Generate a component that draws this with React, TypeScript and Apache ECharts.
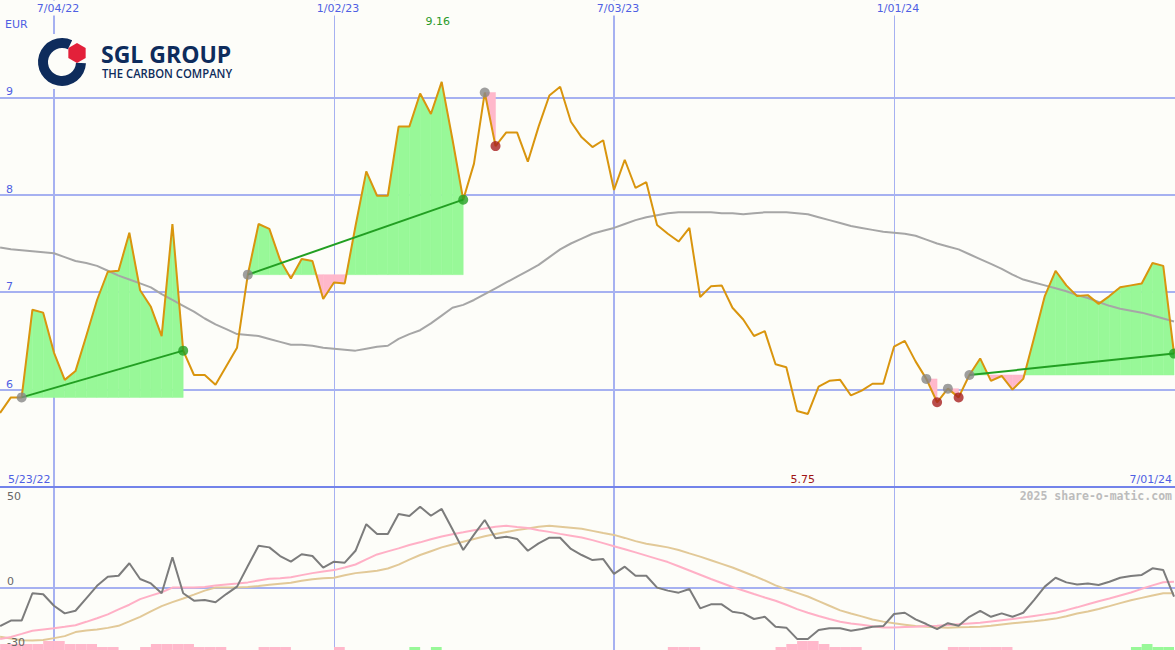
import React, { useEffect, useRef } from "react";
import * as echarts from "echarts";

// ---------- DATA ----------
// week numbers: first value = week 1 (weekly closes)
const FIRST_WEEK = 1;

const price = [
  5.76, 5.92, 5.92, 6.82, 6.79, 6.38, 6.10, 6.19, 6.55, 6.92,
  7.21, 7.22, 7.61, 7.02, 6.85, 6.55, 7.70, 6.40, 6.15, 6.15,
  6.05, 6.24, 6.43, 7.18, 7.70, 7.65, 7.33, 7.14, 7.34, 7.32,
  6.93, 7.10, 7.09, 7.68, 8.24, 7.99, 7.99, 8.70, 8.70, 9.04,
  8.83, 9.16, 8.57, 7.95, 8.32, 9.05, 8.50, 8.64, 8.64, 8.34,
  8.70, 9.02, 9.11, 8.75, 8.59, 8.49, 8.56, 8.05, 8.36, 8.07,
  8.13, 7.69, 7.60, 7.52, 7.66, 6.95, 7.06, 7.07, 6.84, 6.72,
  6.55, 6.60, 6.26, 6.23, 5.78, 5.75, 6.03, 6.09, 6.10, 5.94,
  5.99, 6.06, 6.06, 6.44, 6.50, 6.29, 6.11, 5.87, 6.01, 5.92,
  6.15, 6.32, 6.09, 6.14, 6.00, 6.11, 6.53, 6.96, 7.22, 7.07,
  6.96, 6.97, 6.88, 6.96, 7.05, 7.07, 7.09, 7.30, 7.27, 6.37,
];

const movingAverage = [
  7.46, 7.44, 7.43, 7.42, 7.41, 7.40, 7.36, 7.32, 7.30, 7.27,
  7.22, 7.17, 7.13, 7.09, 7.05, 6.98, 6.92, 6.86, 6.80, 6.73,
  6.67, 6.62, 6.57, 6.56, 6.55, 6.52, 6.49, 6.46, 6.46, 6.45,
  6.43, 6.42, 6.41, 6.40, 6.42, 6.44, 6.45, 6.52, 6.57, 6.61,
  6.68, 6.76, 6.84, 6.87, 6.92, 6.98, 7.04, 7.10, 7.16, 7.22,
  7.28, 7.36, 7.44, 7.50, 7.55, 7.60, 7.63, 7.66, 7.70, 7.74,
  7.77, 7.79, 7.81, 7.82, 7.82, 7.82, 7.82, 7.81, 7.81, 7.80,
  7.81, 7.82, 7.82, 7.82, 7.81, 7.80, 7.77, 7.74, 7.71, 7.68,
  7.66, 7.64, 7.62, 7.61, 7.60, 7.58, 7.54, 7.50, 7.47, 7.44,
  7.39, 7.34, 7.29, 7.24, 7.18, 7.13, 7.10, 7.07, 7.04, 7.01,
  6.97, 6.94, 6.90, 6.86, 6.83, 6.81, 6.79, 6.76, 6.73, 6.70,
];

const oscillator = [
  -19.1, -16.4, -16.4, -2.8, -3.3, -9.0, -12.8, -11.5, -5.3, 0.9,
  5.4, 5.9, 12.1, 4.3, 2.1, -2.8, 15.1, -2.8, -6.5, -6.2,
  -7.3, -3.2, 0.5, 10.7, 20.8, 20.0, 15.7, 12.9, 16.6, 15.7,
  9.9, 12.9, 12.4, 18.3, 31.5, 26.6, 26.6, 36.6, 35.6, 40.2,
  35.7, 39.1, 29.0, 18.7, 26.3, 33.6, 24.5, 25.3, 24.2, 18.3,
  22.0, 24.8, 24.8, 19.2, 16.2, 13.7, 14.2, 6.8, 10.4, 5.9,
  5.9, 0.0, -1.5, -2.5, -0.7, -10.3, -8.3, -8.3, -12.0, -12.8,
  -15.6, -14.5, -19.4, -19.9, -25.5, -25.5, -21.1, -20.2, -20.2, -21.4,
  -20.6, -19.4, -19.1, -13.1, -12.5, -15.8, -18.1, -20.6, -17.7, -18.9,
  -14.5, -11.5, -14.5, -12.8, -14.5, -12.5, -6.2, 0.5, 4.9, 2.6,
  1.6, 2.1, 1.3, 2.9, 4.9, 5.8, 6.3, 9.6, 8.7, -4.5,
];

const signalFast = [
  -25.5, -24.5, -23.0, -21.4, -20.8, -20.2, -19.5, -18.7, -17.0, -15.2,
  -13.3, -10.8, -8.5, -5.7, -4.0, -2.3, 0.0, 0.0, 0.0, 0.3,
  1.0, 1.5, 2.0, 2.6, 3.5, 4.4, 4.7, 5.2, 6.2, 7.2,
  8.0, 8.7, 10.0, 11.5, 14.0, 16.5, 18.0, 19.5, 21.2, 22.5,
  24.0, 25.4, 26.5, 27.5, 28.5, 29.4, 30.3, 30.7, 30.1, 29.6,
  28.5, 27.7, 26.7, 25.8, 24.9, 23.6, 22.1, 20.6, 19.1, 17.5,
  15.9, 14.3, 12.7, 10.6, 8.5, 6.4, 4.3, 2.3, 0.3, -1.4,
  -3.2, -4.9, -6.5, -8.5, -10.7, -12.5, -14.1, -15.6, -17.0, -17.8,
  -18.5, -19.2, -19.8, -19.8, -19.6, -19.4, -19.1, -18.9, -18.6, -18.2,
  -17.8, -17.4, -16.8, -16.2, -15.6, -14.9, -14.1, -13.3, -12.5, -11.2,
  -9.8, -8.3, -6.8, -5.4, -3.9, -2.4, -0.6, 1.1, 2.7, 2.9,
];

const signalSlow = [
  -24.4, -25.3, -26.2, -26.3, -26.0, -25.1, -24.1, -22.1, -21.3, -20.8,
  -20.0, -19.0, -16.8, -14.5, -11.8, -9.2, -7.2, -5.4, -3.5, -1.5,
  0.0, 0.0, 0.0, 0.3, 0.8, 1.4, 1.9, 2.4, 3.4, 4.2,
  4.6, 4.9, 6.1, 7.2, 7.8, 8.4, 9.5, 11.4, 13.9, 16.2,
  18.1, 20.0, 21.4, 22.8, 24.2, 25.5, 26.6, 27.6, 28.6, 29.4,
  30.2, 30.7, 30.2, 29.7, 29.2, 28.2, 27.1, 26.2, 24.7, 23.1,
  21.8, 20.9, 20.0, 18.7, 17.0, 15.4, 13.6, 11.8, 10.0, 7.9,
  5.8, 3.6, 1.1, -0.8, -2.6, -4.4, -6.7, -9.0, -11.3, -12.9,
  -14.3, -15.8, -16.9, -17.7, -18.4, -19.1, -19.4, -19.7, -19.9, -19.7,
  -19.6, -19.4, -18.9, -18.3, -17.7, -17.2, -16.7, -16.1, -15.4, -14.2,
  -12.9, -11.9, -10.6, -9.2, -7.7, -6.3, -5.1, -3.9, -2.8, -2.8,
];

// signal histogram (negative = pink, positive = green)
const histogram = [
  -2, -2, -2, -2, -3, -3, -2, -2, -2, -1,
  -1, 0, 0, -1, -2, -2, -2, -2, -1, -1,
  -1, 0, 0, 0, -1, -1, -1, 0, 0, 0,
  0, -1, 0, 0, 0, 0, 0, 0, 1, 0,
  1, 0, 0, 0, 0, 0, 0, 0, 0, 0,
  0, 0, 0, 0, 0, 0, 0, 0, 0, 0,
  0, 0, -1, -1, -1, 0, 0, 0, 0, 0,
  0, 0, -1, -2, -3, -3, -2, -1, -1, -1,
  0, 0, 0, 0, 0, 0, 0, 0, -1, -1,
  -1, -1, -1, -1, 0, 0, 0, 0, 0, 0,
  0, 0, 0, 0, 0, 1, 2, 1, 1, 0,
];

// trades: [entry week, exit week]
const trades: [number, number][] = [
  [3, 18], [24, 44], [46, 47], [87, 88], [89, 90], [91, 110],
];

const dateTickWeeks = [6, 32, 58, 84];
const dateTickLabels = ["7/04/22", "1/02/23", "7/03/23", "1/01/24"];
const firstDateLabel = "5/23/22";
const lastDateLabel = "7/01/24";
const priceTicks = [6, 7, 8, 9];
const oscTicks = [50, 0, -30];
const currencyLabel = "EUR";
const watermark = "2025 share-o-matic.com";
const brandTitle = "SGL GROUP";
const brandSubtitle = "THE CARBON COMPANY";

// ---------- STYLE ----------
const BG = "#fdfdf9";
const GRID = "#a6b1f1";
const DIVIDER = "#7383ea";
const BLUE = "#4f5fe3";
const ORANGE = "#d9950e";
const MA_GRAY = "#a6a6a6";
const OSC_GRAY = "#7c7c7c";
const PINK_LINE = "#ffb0c6";
const TAN_LINE = "#e2c998";
const FILL_GREEN = "#98f898";
const FILL_PINK = "#ffb8cb";
const TRADE_GREEN = "#229f22";
const ENTRY_GRAY = "#878787";
const EXIT_RED = "#a82020";
const NAVY = "#0e2c5c";
const LOGO_RED = "#e3203a";
const FONT = "DejaVu Sans";

const XMIN = 0.99;
const XMAX = 110.09;
const W = 1175;
const H = 650;
const SPLIT = 487;

const toPts = (arr: number[]) => arr.map((v, i) => [i + FIRST_WEEK, v]);
const priceAt = (k: number) => price[k - FIRST_WEEK];

function buildOption(): any {
  const xAx = (gridIndex: number) => ({
    type: "value", gridIndex, min: XMIN, max: XMAX, show: false,
  });
  const lineS = (data: number[], color: string, xi: number, z: number) => ({
    type: "line",
    xAxisIndex: xi,
    yAxisIndex: xi,
    data: toPts(data),
    showSymbol: false,
    symbol: "none",
    silent: true,
    z,
    lineStyle: { color, width: 2 },
    itemStyle: { color },
  });
  const vLines = dateTickWeeks.map((k, i) => ({
    xAxis: k,
    lineStyle: { color: GRID, width: i % 2 === 0 ? 2 : 1, type: "solid" },
  }));

  const winning = trades.filter(([e, x]) => priceAt(x) > priceAt(e));

  const markers: any[] = [];
  trades.forEach(([e, x]) => {
    markers.push({ value: [e, priceAt(e)], itemStyle: { color: ENTRY_GRAY } });
    markers.push({
      value: [x, priceAt(x)],
      itemStyle: { color: priceAt(x) > priceAt(e) ? TRADE_GREEN : EXIT_RED },
    });
  });

  return {
    animation: false,
    backgroundColor: BG,
    grid: [
      { left: 0, right: 0, top: 0, height: SPLIT },
      { left: 0, right: 0, top: SPLIT, height: H - SPLIT },
      { left: 0, right: 0, top: 620, height: 30 },
    ],
    xAxis: [xAx(0), xAx(1), xAx(2)],
    yAxis: [
      {
        type: "value", gridIndex: 0, min: 5, max: 10, interval: 1,
        axisLine: { show: false }, axisTick: { show: false }, splitLine: { show: false },
        axisLabel: {
          inside: true, margin: 6, verticalAlign: "bottom", color: BLUE,
          fontSize: 11, fontFamily: FONT,
          formatter: (v: number) => (priceTicks.includes(v) ? String(v) : ""),
        },
      },
      { type: "value", gridIndex: 1, min: -31, max: 50, show: false },
      { type: "value", gridIndex: 2, min: 0, max: 10, show: false },
    ],
    series: [
      // grid lines, price panel
      {
        type: "line", xAxisIndex: 0, yAxisIndex: 0, data: [[FIRST_WEEK, 5]],
        symbol: "none", lineStyle: { opacity: 0 }, silent: true, z: 1, clip: false,
        markLine: {
          z: 1, silent: true, symbol: ["none", "none"], label: { show: false },
          animation: false,
          data: [
            ...priceTicks.map((v) => ({ yAxis: v, lineStyle: { color: GRID, width: 2, type: "solid" } })),
            ...vLines,
          ],
        },
      },
      // grid lines, indicator panel
      {
        type: "line", xAxisIndex: 1, yAxisIndex: 1, data: [[FIRST_WEEK, 0]],
        symbol: "none", lineStyle: { opacity: 0 }, silent: true, z: 1, clip: false,
        markLine: {
          z: 1, silent: true, symbol: ["none", "none"], label: { show: false },
          animation: false,
          data: [
            { yAxis: 0, lineStyle: { color: GRID, width: 2, type: "solid" } },
            ...vLines,
            { yAxis: 50, lineStyle: { color: DIVIDER, width: 2, type: "solid" } },
          ],
        },
      },
      // trade fills
      {
        type: "custom", xAxisIndex: 0, yAxisIndex: 0, z: 2, silent: true,
        data: trades.map(([e], i) => [e, priceAt(e), i]),
        encode: { x: 0, y: 1 },
        renderItem: (params: any, api: any) => {
          const [e, x] = trades[params.dataIndex];
          const base = priceAt(e);
          const children: any[] = [];
          const poly = (pts: number[][], up: boolean) =>
            children.push({
              type: "polygon",
              shape: { points: pts.map((p) => api.coord(p)) },
              style: { fill: up ? FILL_GREEN : FILL_PINK, stroke: up ? FILL_GREEN : FILL_PINK, lineWidth: 0.5 },
            });
          for (let k = e; k < x; k++) {
            const p0 = priceAt(k), p1 = priceAt(k + 1);
            const d0 = p0 - base, d1 = p1 - base;
            if (d0 === 0 && d1 === 0) continue;
            if (d0 * d1 >= 0) {
              poly([[k, base], [k, p0], [k + 1, p1], [k + 1, base]], d0 + d1 > 0);
            } else {
              const xm = k + d0 / (d0 - d1);
              poly([[k, base], [k, p0], [xm, base]], d0 > 0);
              poly([[xm, base], [k + 1, p1], [k + 1, base]], d1 > 0);
            }
          }
          return { type: "group", children };
        },
      },
      lineS(movingAverage, MA_GRAY, 0, 3),
      lineS(price, ORANGE, 0, 4),
      ...winning.map(([e, x]) => ({
        type: "line", xAxisIndex: 0, yAxisIndex: 0, silent: true, z: 5,
        data: [[e, priceAt(e)], [x, priceAt(x)]],
        showSymbol: false, symbol: "none",
        lineStyle: { color: TRADE_GREEN, width: 2 },
      })),
      {
        type: "scatter", xAxisIndex: 0, yAxisIndex: 0, z: 6, silent: true,
        symbol: "circle", symbolSize: 10, data: markers,
      },
      // indicator panel
      lineS(signalSlow, TAN_LINE, 1, 3),
      lineS(signalFast, PINK_LINE, 1, 3),
      lineS(oscillator, OSC_GRAY, 1, 4),
      {
        type: "custom", xAxisIndex: 2, yAxisIndex: 2, z: 2, silent: true,
        data: toPts(histogram),
        encode: { x: 0, y: 1 },
        renderItem: (params: any, api: any) => {
          const k = api.value(0), v = api.value(1);
          if (!v) return { type: "group", children: [] };
          const a = api.coord([k, Math.abs(v)]);
          const b = api.coord([k + 1, 0]);
          return {
            type: "rect",
            shape: { x: a[0], y: a[1], width: b[0] - a[0], height: b[1] - a[1] },
            style: { fill: v > 0 ? FILL_GREEN : FILL_PINK },
          };
        },
      },
    ],
  };
}

function txt(text: string, x: number, y: number, color: string, align: string, extra: any = {}) {
  return {
    type: "text",
    z: 120,
    silent: true,
    x, y,
    style: {
      text, fill: color, fontSize: 11, fontFamily: FONT,
      align, textAlign: align, verticalAlign: "middle", textVerticalAlign: "middle",
      ...extra,
    },
  };
}

export default function App() {
  const ref = useRef<HTMLDivElement>(null);
  useEffect(() => {
    const el = ref.current!;
    const chart = echarts.init(el, null, { renderer: "svg" });
    chart.setOption(buildOption());

    const xPx = (k: number) => chart.convertToPixel({ xAxisIndex: 0 }, k) as number;
    const yPx = (ai: number, v: number) => chart.convertToPixel({ yAxisIndex: ai }, v) as number;

    let kMax = 0, kMin = 0;
    price.forEach((p, i) => {
      if (p > price[kMax]) kMax = i;
      if (p < price[kMin]) kMin = i;
    });

    const els: any[] = [];
    dateTickWeeks.forEach((k, i) => {
      els.push(txt(dateTickLabels[i], xPx(k) + 4, 8, BLUE, "center", { backgroundColor: BG, padding: [2, 1] }));
    });
    els.push(txt(currencyLabel, 5, 24, BLUE, "left"));
    els.push(txt(price[kMax].toFixed(2), xPx(kMax + FIRST_WEEK) - 4, 21, "#2a9a2a", "center"));
    els.push(txt(price[kMin].toFixed(2), xPx(kMin + FIRST_WEEK) - 5, 479, "#a01515", "center"));
    els.push(txt(firstDateLabel, 8, 479, BLUE, "left"));
    els.push(txt(lastDateLabel, W - 3, 479, BLUE, "right"));
    els.push(txt(watermark, W - 3, 496, "#bcbcbc", "right", { fontFamily: "DejaVu Sans Mono", fontWeight: "bold", fontSize: 11.5 }));
    els.push(txt(String(oscTicks[0]), 7, yPx(1, oscTicks[0]) + 9, "#666666", "left"));
    els.push(txt(String(oscTicks[1]), 7, yPx(1, oscTicks[1]) - 6, "#666666", "left"));
    els.push(txt(String(oscTicks[2]), 7, yPx(1, oscTicks[2]) - 5, "#666666", "left"));

    // logo
    const cx = 62, cy = 62;
    const hx = 77, hy = 53, hr = 10;
    const hex: number[][] = [];
    for (let i = 0; i < 6; i++) {
      const a = (-90 + 60 * i) * Math.PI / 180;
      hex.push([hx + hr * Math.cos(a), hy + hr * Math.sin(a)]);
    }
    els.push({ type: "rect", z: 110, silent: true, shape: { x: 36, y: 34, width: 202, height: 55 }, style: { fill: BG } });
    els.push({
      type: "sector", z: 111, silent: true,
      shape: { cx, cy, r: 24, r0: 14, startAngle: 0.05, endAngle: 5.15, clockwise: true },
      style: { fill: NAVY },
    });
    els.push({ type: "polygon", z: 111, silent: true, shape: { points: hex }, style: { fill: LOGO_RED } });
    els.push({
      type: "text", z: 111, silent: true, x: 101, y: 53.5, scaleX: 1.0,
      style: {
        text: brandTitle, fill: NAVY, fontSize: 23, fontWeight: "bold", fontFamily: "Open Sans",
        align: "left", textAlign: "left", verticalAlign: "middle", textVerticalAlign: "middle",
      },
    });
    els.push({
      type: "text", z: 111, silent: true, x: 102, y: 73.5, scaleX: 0.94,
      style: {
        text: brandSubtitle, fill: NAVY, fontSize: 12, fontWeight: 600, fontFamily: "Open Sans",
        align: "left", textAlign: "left", verticalAlign: "middle", textVerticalAlign: "middle",
      },
    });

    chart.setOption({ graphic: { elements: els } });

    return () => chart.dispose();
  }, []);

  return (
    <div
      ref={ref}
      style={{ position: "fixed", left: 0, top: 0, width: W, height: H, background: BG }}
    />
  );
}
